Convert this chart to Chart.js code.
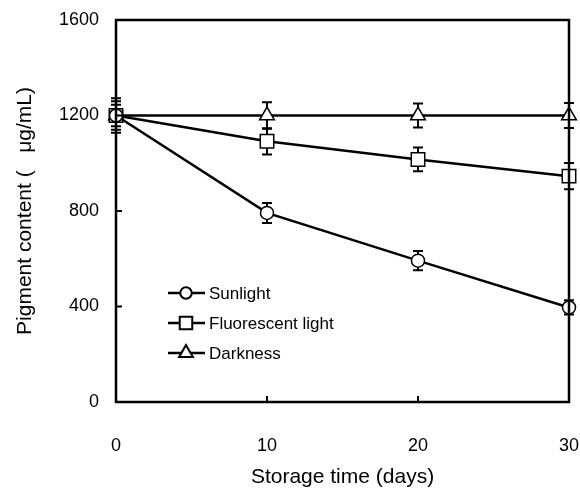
<!DOCTYPE html>
<html>
<head>
<meta charset="utf-8">
<script src="https://cdn.jsdelivr.net/npm/chart.js@4.4.0/dist/chart.umd.min.js"></script>
<style>
  html, body { margin: 0; padding: 0; background: #fff; }
  #wrap { width: 580px; height: 494px; }
</style>
</head>
<body>
<div id="wrap"><canvas id="pigmentCanvas" width="580" height="494"></canvas></div>
<script>
// storage time in days
const days = [0, 10, 20, 30];

const sunlight = [1200, 792, 592, 396];
const sunlightErr = [45, 42, 40, 30];

const fluorescent = [1200, 1092, 1016, 946];
const fluorescentErr = [60, 55, 50, 55];

const darkness = [1200, 1200, 1200, 1200];
const darknessErr = [72, 55, 50, 52];

const yTicks = [0, 400, 800, 1200, 1600];
const xTicks = [0, 10, 20, 30];

const errors = [sunlightErr, fluorescentErr, darknessErr];

function toPoints(values) {
  return days.map(function (d, i) {
    return { x: d, y: values[i] };
  });
}

const fontFamily = "'Liberation Sans', Arial, sans-serif";

// frame, inward ticks, error bars and legend
const decorPlugin = {
  id: "decor",
  beforeDatasetsDraw: function (chart) {
    let ctx = chart.ctx;
    let xs = chart.scales.x;
    let ys = chart.scales.y;
    ctx.save();
    ctx.strokeStyle = "#000";
    ctx.lineWidth = 2;
    for (let s = 0; s < errors.length; s++) {
      for (let i = 0; i < days.length; i++) {
        let px = xs.getPixelForValue(days[i]);
        let val = chart.data.datasets[s].data[i].y;
        let top = ys.getPixelForValue(val + errors[s][i]);
        let bottom = ys.getPixelForValue(val - errors[s][i]);
        ctx.beginPath();
        ctx.moveTo(px, top);
        ctx.lineTo(px, bottom);
        ctx.moveTo(px - 5, top);
        ctx.lineTo(px + 5, top);
        ctx.moveTo(px - 5, bottom);
        ctx.lineTo(px + 5, bottom);
        ctx.stroke();
      }
    }
    ctx.restore();
  },
  afterDatasetsDraw: function (chart) {
    let ctx = chart.ctx;
    let a = chart.chartArea;
    let xs = chart.scales.x;
    let ys = chart.scales.y;
    ctx.save();
    ctx.strokeStyle = "#000";
    ctx.lineWidth = 2.5;
    ctx.strokeRect(a.left, a.top, a.right - a.left, a.bottom - a.top);

    ctx.lineWidth = 2;
    ctx.beginPath();
    yTicks.forEach(function (t) {
      let py = ys.getPixelForValue(t);
      ctx.moveTo(a.left, py);
      ctx.lineTo(a.left + 6, py);
    });
    xTicks.forEach(function (t) {
      let px = xs.getPixelForValue(t);
      ctx.moveTo(px, a.bottom);
      ctx.lineTo(px, a.bottom - 6);
    });
    ctx.stroke();

    // legend inside the plot
    let rowY = [293, 323, 353];
    chart.data.datasets.forEach(function (ds, i) {
      let y = rowY[i];
      ctx.lineWidth = 2.5;
      ctx.strokeStyle = "#000";
      ctx.beginPath();
      ctx.moveTo(168, y);
      ctx.lineTo(205, y);
      ctx.stroke();
      Chart.helpers.drawPoint(ctx, {
        pointStyle: ds.pointStyle,
        radius: ds.pointRadius - 1,
        borderWidth: 1.5
      }, 186, y);
      ctx.fillStyle = "#fff";
      ctx.strokeStyle = "#000";
      ctx.lineWidth = 1.5;
      ctx.fill();
      ctx.stroke();
      ctx.fillStyle = "#000";
      ctx.font = "17px " + fontFamily;
      ctx.textAlign = "left";
      ctx.textBaseline = "middle";
      ctx.fillText(ds.label, 209, y + 1);
    });
    ctx.restore();
  }
};

new Chart(document.getElementById("pigmentCanvas"), {
  type: "line",
  data: {
    datasets: [
      {
        label: "Sunlight",
        data: toPoints(sunlight),
        pointStyle: "circle",
        pointRadius: 6.5
      },
      {
        label: "Fluorescent light",
        data: toPoints(fluorescent),
        pointStyle: "rect",
        pointRadius: 9.5
      },
      {
        label: "Darkness",
        data: toPoints(darkness),
        pointStyle: "triangle",
        pointRadius: 8.5
      }
    ].map(function (ds) {
      ds.borderColor = "#000";
      ds.borderWidth = 2.5;
      ds.backgroundColor = "#fff";
      ds.pointBackgroundColor = "#fff";
      ds.pointBorderColor = "#000";
      ds.pointBorderWidth = 1.5;
      ds.tension = 0;
      ds.fill = false;
      ds.clip = false;
      return ds;
    })
  },
  options: {
    responsive: false,
    animation: false,
    events: [],
    layout: { padding: { top: 20, right: 10, left: 0, bottom: 0 } },
    plugins: {
      legend: { display: false },
      tooltip: { enabled: false }
    },
    scales: {
      x: {
        type: "linear",
        min: 0,
        max: 30,
        afterBuildTicks: function (scale) {
          scale.ticks = xTicks.map(function (v) { return { value: v }; });
        },
        afterFit: function (scale) {
          scale.height = 92;
          scale.paddingLeft = 0;
          scale.paddingRight = 0;
        },
        grid: { display: false, drawTicks: false },
        border: { display: false },
        ticks: {
          color: "#000",
          padding: 33,
          maxRotation: 0,
          callback: function (v) { return String(v); },
          font: { family: fontFamily, size: 18 }
        },
        title: {
          display: true,
          text: "Storage time (days)",
          color: "#000",
          padding: { top: 0, bottom: 4 },
          font: { family: fontFamily, size: 21 }
        }
      },
      y: {
        min: 0,
        max: 1600,
        afterBuildTicks: function (scale) {
          scale.ticks = yTicks.map(function (v) { return { value: v }; });
        },
        afterFit: function (scale) {
          scale.width = 116;
          scale.paddingTop = 0;
          scale.paddingBottom = 0;
        },
        grid: { display: false, drawTicks: false },
        border: { display: false },
        ticks: {
          color: "#000",
          padding: 17,
          callback: function (v) { return String(v); },
          font: { family: fontFamily, size: 18 }
        },
        title: {
          display: true,
          text: "Pigment content (   \u03bcg/mL)",
          color: "#000",
          padding: { top: 13, bottom: 0 },
          font: { family: fontFamily, size: 21 }
        }
      }
    }
  },
  plugins: [decorPlugin]
});
</script>
</body>
</html>
